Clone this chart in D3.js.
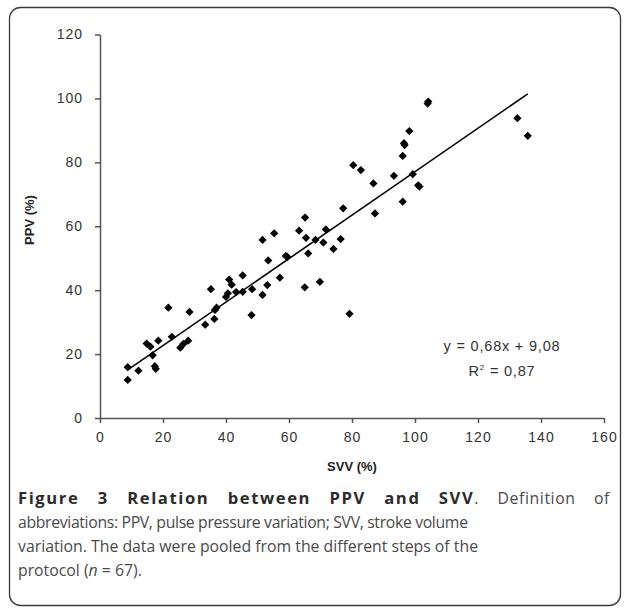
<!DOCTYPE html>
<html>
<head>
<meta charset="utf-8">
<script src="https://cdn.jsdelivr.net/npm/d3@7"></script>
<style>
  body { margin: 0; background: #fff; }
  svg { display: block; }
</style>
</head>
<body>
<svg id="chart" width="625" height="610"></svg>
<script>
// SVV (%) vs PPV (%)
const svv = [
    8.8, 8.8, 12.2, 14.8, 16.0, 16.7, 18.5, 17.4, 17.7, 21.7,
    22.8, 25.5, 26.5, 28.0, 28.4, 33.4, 35.2, 36.3, 36.5, 37.0,
    40.0, 40.6, 41.0, 41.8, 43.2, 45.3, 45.3, 48.3, 48.1, 51.6,
    51.6, 53.1, 53.4, 55.3, 57.1, 59.0, 59.5, 63.2, 65.1, 65.4,
    66.1, 65.0, 68.4, 69.8, 70.9, 71.7, 74.1, 76.4, 77.2, 79.2,
    80.4, 82.8, 86.8, 87.3, 93.3, 96.1, 96.5, 96.1, 98.2, 99.3,
    101.4, 104.2, 132.5, 135.8, 104.0, 96.7, 101.0
]
const ppv = [
    11.9, 15.9, 14.8, 23.3, 22.3, 19.6, 24.2, 16.2, 15.4, 34.5,
    25.4, 22.0, 23.2, 24.2, 33.2, 29.2, 40.3, 31.0, 33.8, 34.5,
    37.9, 39.0, 43.3, 41.7, 39.4, 44.6, 39.5, 40.3, 32.2, 55.7,
    38.5, 41.6, 49.3, 57.8, 43.9, 50.7, 50.4, 58.6, 62.7, 56.4,
    51.5, 40.9, 55.7, 42.6, 54.9, 59.0, 52.9, 56.0, 65.6, 32.6,
    79.1, 77.6, 73.4, 64.0, 75.8, 82.0, 86.0, 67.7, 89.8, 76.3,
    72.4, 99.0, 93.8, 88.3, 98.4, 85.4, 72.8
]
const xTicks = [0, 20, 40, 60, 80, 100, 120, 140, 160]
const yTicks = [0, 20, 40, 60, 80, 100, 120]
const slope = 0.68
const intercept = 9.08
const eqText = "y = 0,68x + 9,08"
const r2Text = "0,87"

const points = svv.map((v, i) => ({x: v, y: ppv[i]}))

const svg = d3.select("#chart")

// frame
svg.append("rect")
    .attr("x", 9.5).attr("y", 7.5)
    .attr("width", 611).attr("height", 598)
    .attr("rx", 11)
    .attr("fill", "none")
    .attr("stroke", "#3a3a3a")
    .attr("stroke-width", 1.3)

var x = d3.scaleLinear().domain([0, 160]).range([100, 604])
var y = d3.scaleLinear().domain([0, 120]).range([418, 34.5])

const axisColor = "#555"
const labelColor = "#333"
const tickFont = "'Liberation Sans', Arial, sans-serif"

var xAxis = svg.append("g")
    .attr("transform", "translate(0,418)")
    .call(d3.axisBottom(x).tickValues(xTicks).tickSize(5).tickSizeOuter(0).tickPadding(9))
var yAxis = svg.append("g")
    .attr("transform", "translate(100,0)")
    .call(d3.axisLeft(y).tickValues(yTicks).tickSize(5).tickSizeOuter(0).tickPadding(12))

;[xAxis, yAxis].forEach(a => {
    a.select(".domain").attr("stroke", axisColor).attr("stroke-width", 1.5)
    a.selectAll(".tick line").attr("stroke", axisColor).attr("stroke-width", 1.5)
    a.selectAll(".tick text")
        .attr("fill", labelColor)
        .style("font-family", tickFont)
        .style("font-size", "14px")
        .style("letter-spacing", "1px")
})

// axis titles
svg.append("text")
    .attr("x", 352).attr("y", 471)
    .attr("text-anchor", "middle")
    .attr("fill", "#222")
    .style("font-family", tickFont)
    .style("font-size", "13px")
    .style("font-weight", "bold")
    .text("SVV (%)")

svg.append("text")
    .attr("transform", "translate(34,220) rotate(-90)")
    .attr("text-anchor", "middle")
    .attr("fill", "#222")
    .style("font-family", tickFont)
    .style("font-size", "13px")
    .style("font-weight", "bold")
    .text("PPV (%)")

// regression line
var xs = d3.extent(svv)
svg.append("line")
    .attr("x1", x(xs[0])).attr("y1", y(slope * xs[0] + intercept))
    .attr("x2", x(xs[1])).attr("y2", y(slope * xs[1] + intercept))
    .attr("stroke", "#000")
    .attr("stroke-width", 1.6)

// markers: squares turned 45deg (diamonds)
var diamond = d3.symbol().type(d3.symbolSquare).size(34)
svg.append("g")
    .selectAll("path")
    .data(points)
    .join("path")
    .attr("d", diamond)
    .attr("transform", d => `translate(${x(d.x)},${y(d.y)}) rotate(45)`)
    .attr("fill", "#000")

// equation
svg.append("text")
    .attr("x", 502).attr("y", 351)
    .attr("text-anchor", "middle")
    .attr("fill", labelColor)
    .style("font-family", tickFont)
    .style("font-size", "14.5px")
    .style("letter-spacing", "0.8px")
    .text(eqText)
var r2 = svg.append("text")
    .attr("x", 502).attr("y", 376)
    .attr("text-anchor", "middle")
    .attr("fill", labelColor)
    .style("font-family", tickFont)
    .style("font-size", "14.5px")
    .style("letter-spacing", "0.8px")
r2.append("tspan").text("R")
r2.append("tspan").attr("dy", -6).style("font-size", "8px").text("2")
r2.append("tspan").attr("dy", 6).text(" = " + r2Text)

// caption
const capFont = "'Open Sans', 'Noto Sans', sans-serif"
const capSize = "15.8px"
const capLeft = 18, capRight = 610

// first line is justified: place word by word
const firstLine = [
    [["Figure", true]], [["3", true]], [["Relation", true]], [["between", true]],
    [["PPV", true]], [["and", true]], [["SVV", true], [".", false]],
    [["Definition", false]], [["of", false]]
]
var words = firstLine.map(parts => {
    var t = svg.append("text")
        .attr("y", 504)
        .style("font-family", capFont)
        .style("font-size", capSize)
    parts.forEach(p => {
        t.append("tspan")
            .text(p[0])
            .attr("fill", p[1] ? "#2b2b2b" : "#4a4a4a")
            .style("font-weight", p[1] ? "bold" : "normal")
            .style("font-size", p[1] ? "16.6px" : capSize)
            .style("letter-spacing", p[1] ? "1.6px" : "0.6px")
    })
    return t
})
var widths = words.map(w => w.node().getComputedTextLength())
var gap = (capRight - capLeft - d3.sum(widths)) / (words.length - 1)
var cx = capLeft
words.forEach((w, i) => {
    w.attr("x", cx)
    cx += widths[i] + gap
})

const capLines = [
    ["abbreviations: PPV, pulse pressure variation; SVV, stroke volume", 450],
    ["variation. The data were pooled from the different steps of the", 460]
]
capLines.forEach((l, i) => {
    svg.append("text")
        .attr("x", capLeft).attr("y", 528 + i * 24)
        .attr("fill", "#4a4a4a")
        .attr("textLength", l[1])
        .attr("lengthAdjust", "spacing")
        .style("font-family", capFont)
        .style("font-size", capSize)
        .text(l[0])
})
var last = svg.append("text")
    .attr("x", capLeft).attr("y", 576)
    .attr("fill", "#4a4a4a")
    .style("font-family", capFont)
    .style("font-size", capSize)
last.append("tspan").text("protocol (")
last.append("tspan").style("font-style", "italic").text("n")
last.append("tspan").text(" = 67).")
</script>
</body>
</html>
